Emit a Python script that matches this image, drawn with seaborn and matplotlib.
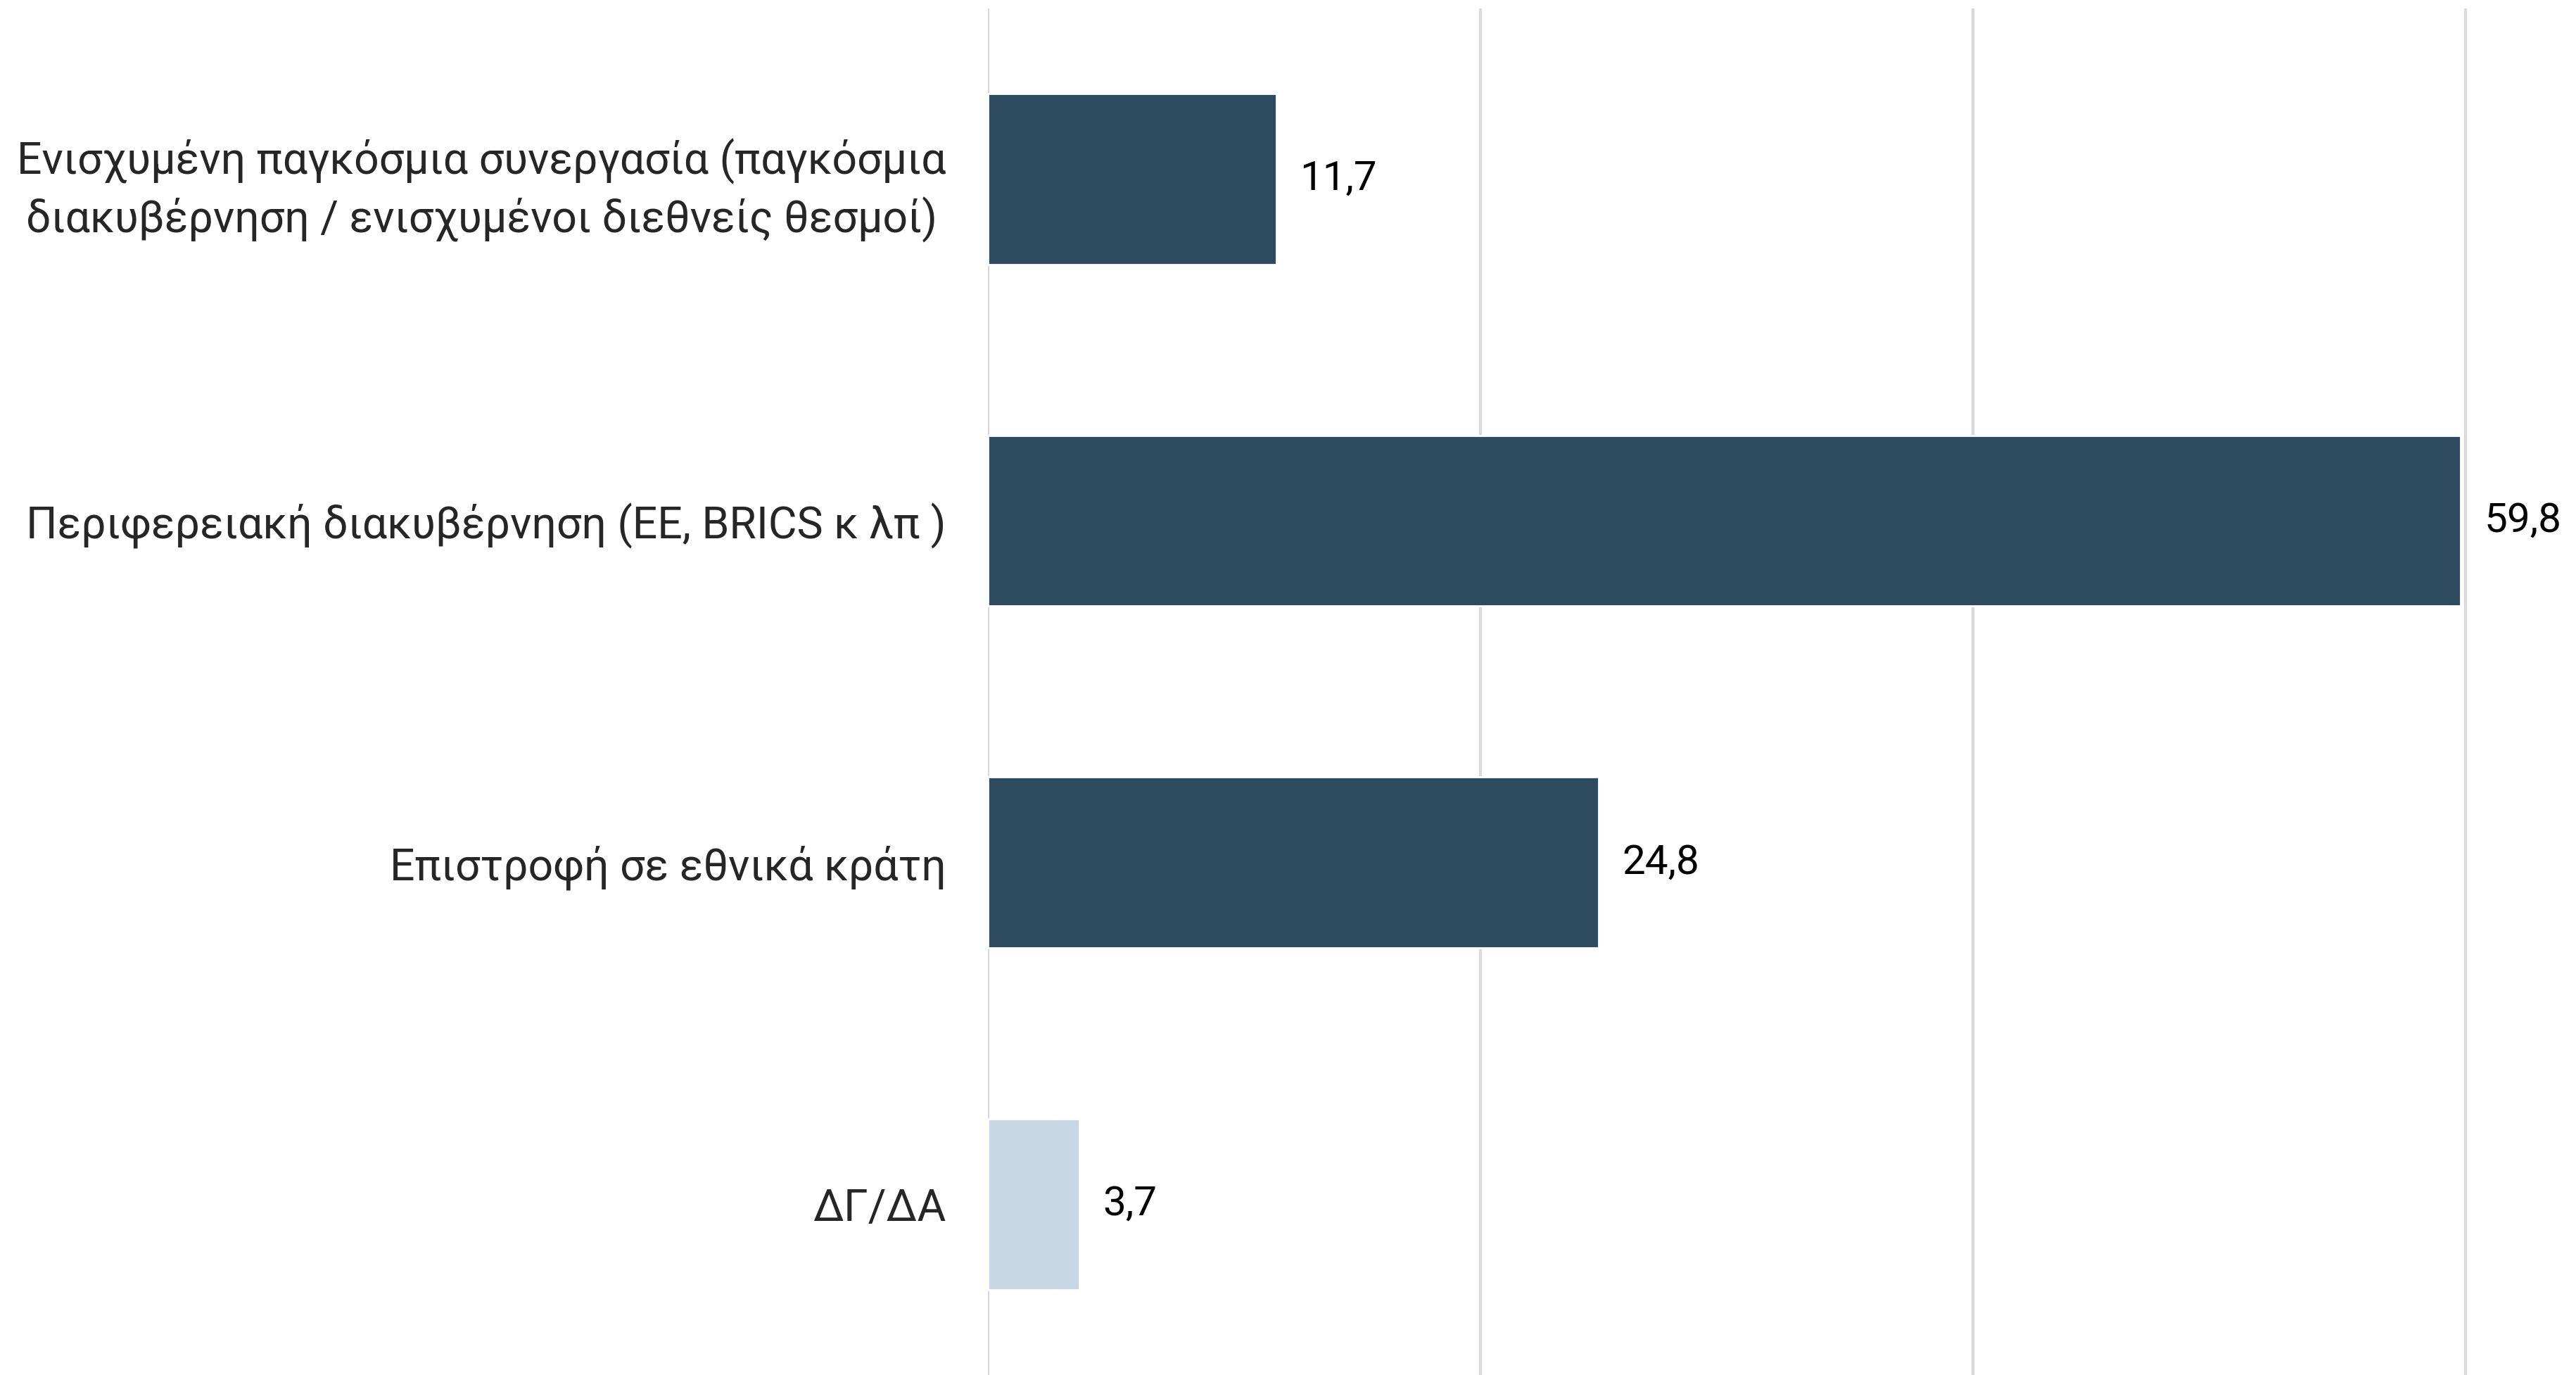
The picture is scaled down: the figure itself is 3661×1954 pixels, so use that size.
import pandas as pd
import seaborn as sns
import matplotlib.pyplot as plt

# Data
categories = [
    'Ενισχυμένη παγκόσμια συνεργασία (παγκόσμια\nδιακυβέρνηση / ενισχυμένοι διεθνείς θεσμοί)',
    'Περιφερειακή διακυβέρνηση (ΕΕ, BRICS κ λπ )',
    'Επιστροφή σε εθνικά κράτη',
    'ΔΓ/ΔΑ',
]
values = [11.7, 59.8, 24.8, 3.7]
bar_colors = ['#2E4A5F', '#2E4A5F', '#2E4A5F', '#C7D7E5']

df = pd.DataFrame({'Category': categories, 'Value': values})

sns.set_style('white')
plt.rcParams['font.family'] = ['Roboto', 'DejaVu Sans']

fig = plt.figure(figsize=(18.31, 9.77), dpi=200)
ax = fig.add_axes([0.3834, 0.0, 0.6166, 0.994])

sns.barplot(data=df, y='Category', x='Value', hue='Category',
            palette=bar_colors, legend=False, width=0.5, ax=ax,
            saturation=1, orient='h')

ax.set_xlim(0, 64.5)
ax.set_ylim(3.5, -0.5)
ax.set_xticks([0, 20, 40, 60])
ax.xaxis.grid(True, color='#D9D9D9', linewidth=1.5)
ax.set_axisbelow(True)
ax.tick_params(axis='x', bottom=False, labelbottom=False)
ax.tick_params(axis='y', left=False, pad=18, labelsize=22.5)
for lbl in ax.get_yticklabels():
    lbl.set_multialignment('center')
    lbl.set_linespacing(1.35)
for s in ax.spines.values():
    s.set_visible(False)
ax.set_xlabel('')
ax.set_ylabel('')

# value labels
for i, v in enumerate(values):
    ax.annotate(f'{v:.1f}'.replace('.', ','), xy=(v, i), xytext=(12, 0),
                textcoords='offset points', va='center', ha='left',
                fontsize=21, color='black')

fig.savefig('out.png', dpi=200)
